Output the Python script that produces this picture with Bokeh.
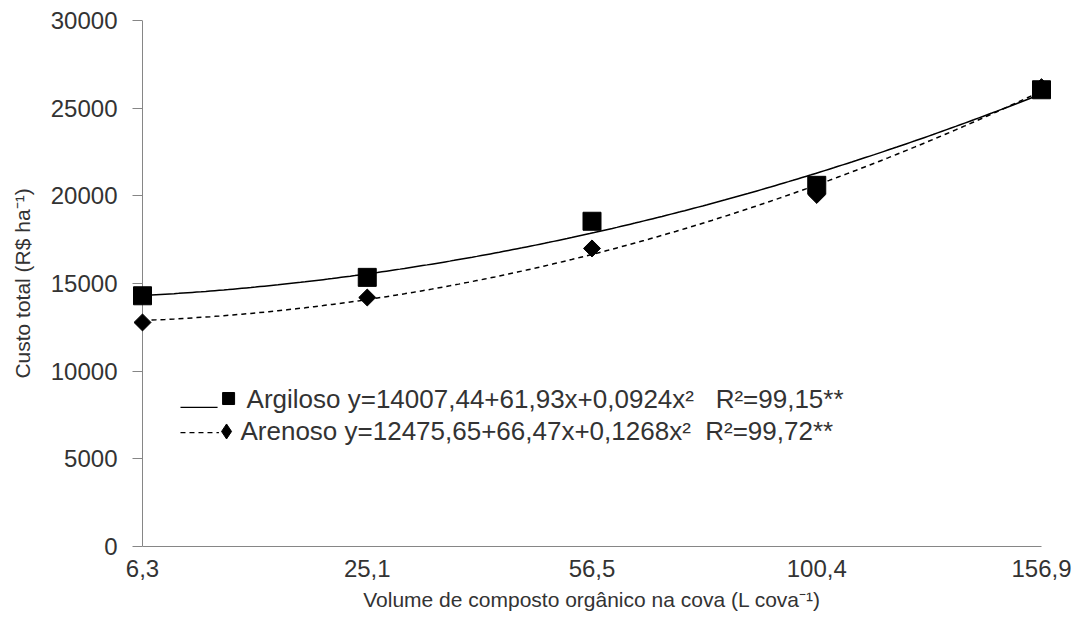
import numpy as np
from bokeh.plotting import figure
from bokeh.models import Range1d, FixedTicker, Span
from bokeh.embed import file_html
from bokeh.resources import INLINE
from bokeh.core.properties import value

# ---- data ----
volumes = ["6,3", "25,1", "56,5", "100,4", "156,9"]
argiloso = [14300, 15350, 18550, 20600, 26050]
arenoso = [12780, 14200, 17000, 20050, 26200]
y_ticks = [0, 5000, 10000, 15000, 20000, 25000, 30000]
legend_labels = [
    "Argiloso y=14007,44+61,93x+0,0924x²\u00a0\u00a0\u00a0R²=99,15**",
    "Arenoso y=12475,65+66,47x+0,1268x²\u00a0\u00a0R²=99,72**",
]
x_title = "Volume de composto orgânico na cova (L cova\u207b\u00b9)"
y_title = "Custo total (R$ ha\u207b\u00b9)"

FONT = "Liberation Sans"
TXT = "#333333"
AX = "#868686"

idx = np.arange(len(volumes))
xs = np.linspace(0, len(volumes) - 1, 200)
fit_arg = np.polyval(np.polyfit(idx, argiloso, 2), xs)
fit_are = np.polyval(np.polyfit(idx, arenoso, 2), xs)

# layout: 224.75 px per category, 10 px padding each side of the frame
pad = 10 / 224.75
p = figure(width=1072, height=622, output_backend="svg", toolbar_location=None,
           x_range=Range1d(-pad, len(volumes) - 1 + pad), y_range=Range1d(0, 30000),
           min_border_left=132, min_border_right=21, min_border_top=20, min_border_bottom=76)
p.outline_line_color = None
p.xgrid.grid_line_color = None
p.ygrid.grid_line_color = None
p.background_fill_color = "white"
p.border_fill_color = "white"

# x axis
p.xaxis.ticker = FixedTicker(ticks=list(idx))
p.xaxis.major_label_overrides = {int(i): v for i, v in zip(idx, volumes)}
p.xaxis.bounds = (0, len(volumes) - 1)
p.xaxis.major_tick_line_color = None
p.xaxis.minor_tick_line_color = None
p.xaxis.major_tick_out = 0
p.xaxis.major_tick_in = 0
p.xaxis.major_label_standoff = 13
p.xaxis.axis_label = x_title
p.xaxis.axis_label_standoff = 8

# y axis (line drawn at x = first category with a span)
p.yaxis.ticker = FixedTicker(ticks=y_ticks)
p.yaxis.axis_line_color = None
p.yaxis.minor_tick_line_color = None
p.yaxis.major_tick_out = 0
p.yaxis.major_tick_in = 10
p.yaxis.major_tick_line_color = AX
p.yaxis.major_label_standoff = 15
p.yaxis.axis_label = y_title
p.yaxis.axis_label_standoff = 14

p.xaxis.axis_line_color = AX
for ax in (p.xaxis, p.yaxis):
    ax.major_label_text_font = FONT
    ax.major_label_text_font_size = "24px"
    ax.major_label_text_color = TXT
    ax.axis_label_text_font = FONT
    ax.axis_label_text_font_size = "21px"
    ax.axis_label_text_font_style = "normal"
    ax.axis_label_text_color = TXT

p.add_layout(Span(location=0, dimension="height", line_color=AX, line_width=1, level="underlay"))

# trend curves
p.line(xs, fit_arg, line_color="black", line_width=1.5)
p.line(xs, fit_are, line_color="black", line_width=1.5, line_dash="5 4")

# points
p.scatter(idx, arenoso, marker="square", angle=np.pi / 4, size=12, fill_color="black", line_color="black")
p.scatter(idx, argiloso, marker="square", size=18, fill_color="black", line_color="black")

# legend (drawn manually to match the reference layout)
p.line([0.169, 0.334], [7930, 7930], line_color="black", line_width=1.2)
p.scatter([0.383], [8440], marker="square", size=12, fill_color="black", line_color="black")
p.text([0.463], [8440], text=[legend_labels[0]], text_font=value(FONT), text_font_size="26px",
       text_baseline="middle", text_align="left", text_color=TXT)

p.line([0.169, 0.340], [6500, 6500], line_color="black", line_width=1.2, line_dash="5 4")
p.scatter([0.374], [6560], marker="diamond", size=15, fill_color="black", line_color="black")
p.text([0.436], [6560], text=[legend_labels[1]], text_font=value(FONT), text_font_size="26px",
       text_baseline="middle", text_align="left", text_color=TXT)

open("out.html", "w").write(file_html(p, INLINE))
